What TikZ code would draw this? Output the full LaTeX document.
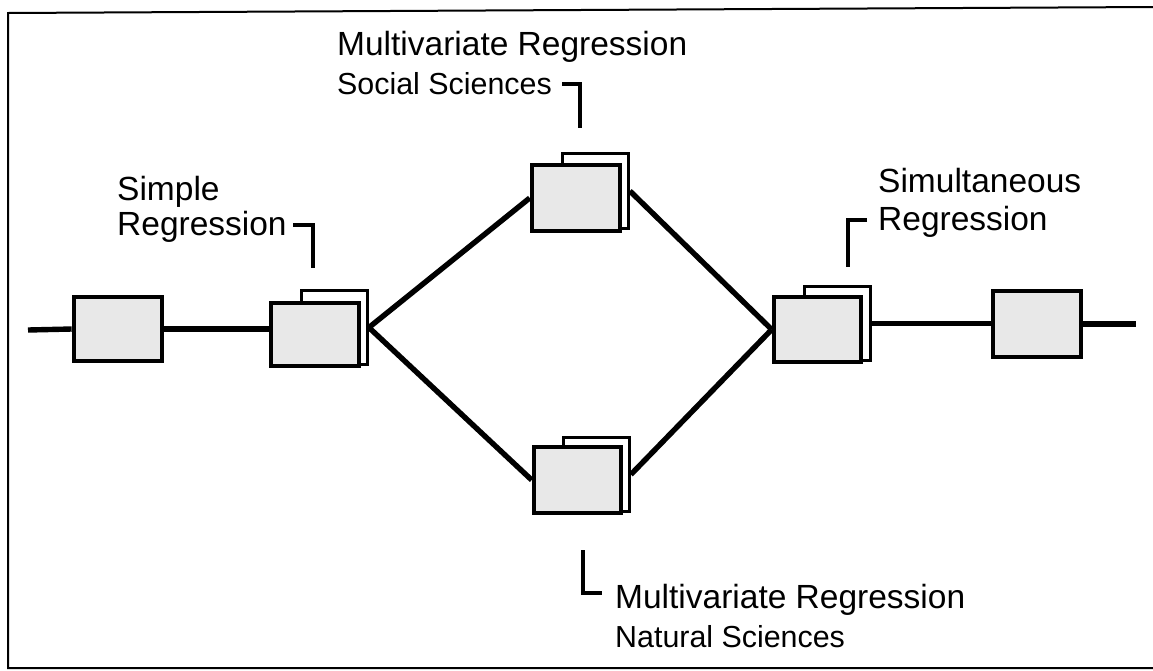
\documentclass[tikz,border=0pt]{standalone}
\usepackage{fontspec}
\setmainfont{Liberation Sans}
\usetikzlibrary{backgrounds}
\begin{document}
\begin{tikzpicture}[x=1pt,y=-1pt,
  frontbox/.style={draw, line width=4.6pt, fill=black!9, inner sep=0pt,
    minimum width=#1},
  backbox/.style={draw, line width=2.8pt, fill=white, inner sep=0pt,
    minimum width=66pt, minimum height=74pt},
  conn/.style={line width=5.4pt},
  leader/.style={line width=3.2pt},
  biglbl/.style={font=\fontsize{33.5}{38}\selectfont, inner sep=0pt, anchor=base west},
  smalllbl/.style={font=\fontsize{30.4}{36}\selectfont, inner sep=0pt, anchor=base west}]
\useasboundingbox (0,0) rectangle (1153,670);
% frame
\draw[line width=2pt] (1153,7) -- (8,13) -- (8,668) -- (1153,668);

% boxes
\node[frontbox=88pt, minimum height=64pt] (b1) at (118,329) {};
\node[backbox] (b2b) at (334.5,327.5) {};
\node[frontbox=88pt, minimum height=63pt] (b2f) at (315,334.5) {};
\node[backbox, minimum height=75pt] (b3b) at (595.5,191) {};
\node[frontbox=88pt, minimum height=66pt] (b3f) at (576,198) {};
\node[backbox] (b4b) at (596.5,474.5) {};
\node[frontbox=87pt, minimum height=66pt] (b4f) at (577.5,480) {};
\node[backbox] (b5b) at (837.5,323.5) {};
\node[frontbox=87pt, minimum height=65pt] (b5f) at (817.5,329.5) {};
\node[frontbox=88pt, minimum height=66pt] (b6) at (1037,324) {};

\coordinate (lend) at (28,330);
\coordinate (rend) at (1136,324);

\begin{pgfonlayer}{background}
\draw[conn] (lend) -- (b1.west);
\draw[conn] (b1.east) -- (b1.east -| b2f.west);
\draw[conn] (b2b.east) -- (b3f.west);
\draw[conn] (b2b.east) -- (b4f.west);
\draw[conn] (b3b.east) -- (b5f.west);
\draw[conn] (b4b.east) -- (b5f.west);
\draw[conn] (b5b.east) -- (b5b.east -| b6.west);
\draw[conn] (b6.east) -- (rend);
\end{pgfonlayer}

% labels
\node[biglbl] (simple1) at (117,200) {Simple};
\node[biglbl] (simple2) at (117,235) {Regression};
\node[biglbl] (mvs1) at (337,55) {Multivariate Regression};
\node[smalllbl] (mvs2) at (337,94) {Social Sciences};
\node[biglbl] (sim1) at (878,192) {Simultaneous};
\node[biglbl] (sim2) at (878,230) {Regression};
\node[biglbl] (mvn1) at (615,608) {Multivariate Regression};
\node[smalllbl] (mvn2) at (615,647) {Natural Sciences};

% leaders
\coordinate (ls0) at (293,225);
\coordinate (ls1) at (313,225);
\coordinate (ls2) at (313,268);
\draw[leader] (ls0) -- (ls1) -- (ls2);
\coordinate (lm0) at (562,84);
\coordinate (lm1) at (580,84);
\coordinate (lm2) at (580,128);
\draw[leader] (lm0) -- (lm1) -- (lm2);
\coordinate (lt0) at (867,220);
\coordinate (lt1) at (848,220);
\coordinate (lt2) at (848,267);
\draw[leader] (lt0) -- (lt1) -- (lt2);
\coordinate (ln0) at (583,550);
\coordinate (ln1) at (583,593);
\coordinate (ln2) at (602,593);
\draw[leader] (ln0) -- (ln1) -- (ln2);
\end{tikzpicture}
\end{document}
